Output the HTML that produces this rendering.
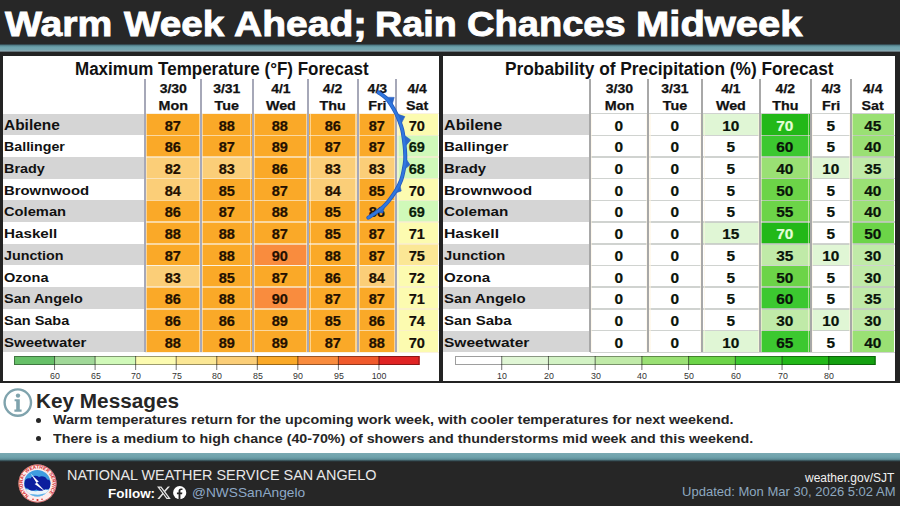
<!DOCTYPE html>
<html><head><meta charset="utf-8"><title>Warm Week Ahead; Rain Chances Midweek</title>
<style>
*{margin:0;padding:0;box-sizing:border-box}
html,body{width:900px;height:506px;overflow:hidden;background:#fff}
body{position:relative;font-family:"Liberation Sans",Arial,sans-serif}
.a{position:absolute}
.hdr{left:0;top:0;width:900px;height:45px;background:#272727}
.title{top:3.7px;color:#fff;font-weight:700;font-size:35.5px;white-space:nowrap;transform-origin:0 0;-webkit-text-stroke:0.9px #fff}
.teal{background:#6fa2ac}
.frame{left:0;top:52px;width:900px;height:331px;background:#232323}
.panel{background:#fff}
.ph{font-weight:700;font-size:17.5px;color:#111;white-space:nowrap;transform-origin:0 0}
.cell{text-align:center;font-weight:700;font-size:14px;line-height:16px;padding-top:4px;color:#231000}
.cell span{display:inline-block;position:relative;left:-0.4px;-webkit-text-stroke:.2px currentColor}
.nm{font-weight:700;font-size:14px;color:#111;white-space:nowrap;transform-origin:0 0}
.dh{font-weight:700;font-size:13px;color:#111;text-align:center;white-space:nowrap;-webkit-text-stroke:.25px #111}
.vl{background:#a8a8a8;width:2px}
.hl{background:rgba(225,225,225,.75);height:1.6px}
.tick{background:#444;width:1px;height:5px}
.tl{font-size:9.8px;color:#333;white-space:nowrap;text-align:center;width:30px;transform:scaleX(.9)}
.km{font-family:"Liberation Sans",Arial,sans-serif;color:#262626;white-space:nowrap;transform-origin:0 0}
.ft{white-space:nowrap;transform-origin:0 0}
</style></head><body>

<div class="a hdr"></div>
<div class="a" id="title" style="left:0;top:0;width:900px;height:45px">
<span class="a title tw" style="left:5.20px;transform:scaleX(1.1021)">Warm</span>
<span class="a title tw" style="left:124.24px;transform:scaleX(1.0892)">Week</span>
<span class="a title tw" style="left:234.31px;transform:scaleX(1.0991)">Ahead</span>
<span class="a title tw" style="left:352.96px;transform:scaleX(1.1857)">;</span>
<span class="a title tw" style="left:375.46px;transform:scaleX(1.0616)">Rain</span>
<span class="a title tw" style="left:467.29px;transform:scaleX(1.0726)">Chances</span>
<span class="a title tw" style="left:636.10px;transform:scaleX(1.1253)">Midweek</span>
</div>
<div class="a" style="left:0;top:44.3px;width:900px;height:8px;background:linear-gradient(#253036 0%,#5d8f9a 22%,#6fa3ad 45%,#74a4ae 70%,#8ea8b1 88%,#3a4044 100%)"></div>
<div class="a frame"></div>
<div class="a panel" style="left:3px;top:56px;width:436px;height:324.5px"></div>
<div class="a panel" style="left:443px;top:56px;width:452px;height:324.5px"></div>
<div class="a ph" id="ph1" style="left:74.5px;top:58.6px;transform:scaleX(0.971)">Maximum Temperature (°F) Forecast</div>
<div class="a ph" id="ph2" style="left:504.5px;top:58.6px;transform:scaleX(0.988)">Probability of Precipitation (%) Forecast</div>
<div class="a" style="left:3px;top:113.6px;width:141.5px;height:21.7px;background:#d5d5d5"></div>
<div class="a nm" style="left:3.6px;top:117.11px;font-size:14.00px;transform:scaleX(1.104)">Abilene</div>
<div class="a cell" style="left:144.5px;top:113.6px;width:56.5px;height:21.7px;background:#faa928;color:#231000"><span style="transform:scaleX(1.04)">87</span></div>
<div class="a cell" style="left:201.0px;top:113.6px;width:51.5px;height:21.7px;background:#faa928;color:#231000"><span style="transform:scaleX(1.04)">88</span></div>
<div class="a cell" style="left:252.5px;top:113.6px;width:55.8px;height:21.7px;background:#faa928;color:#231000"><span style="transform:scaleX(1.04)">88</span></div>
<div class="a cell" style="left:308.3px;top:113.6px;width:49.2px;height:21.7px;background:#faa928;color:#231000"><span style="transform:scaleX(1.04)">86</span></div>
<div class="a cell" style="left:357.5px;top:113.6px;width:38.7px;height:21.7px;background:#faa928;color:#231000"><span style="transform:scaleX(1.04)">87</span></div>
<div class="a cell" style="left:396.2px;top:113.6px;width:42.3px;height:21.7px;background:#fcfbb0;color:#141008"><span style="transform:scaleX(1.04)">70</span></div>
<div class="a" style="left:3px;top:135.3px;width:141.5px;height:21.7px;background:#ffffff"></div>
<div class="a nm" style="left:3.6px;top:139.36px;font-size:13.40px;transform:scaleX(1.062)">Ballinger</div>
<div class="a cell" style="left:144.5px;top:135.3px;width:56.5px;height:21.7px;background:#faa928;color:#231000"><span style="transform:scaleX(1.04)">86</span></div>
<div class="a cell" style="left:201.0px;top:135.3px;width:51.5px;height:21.7px;background:#faa928;color:#231000"><span style="transform:scaleX(1.04)">87</span></div>
<div class="a cell" style="left:252.5px;top:135.3px;width:55.8px;height:21.7px;background:#faa928;color:#231000"><span style="transform:scaleX(1.04)">89</span></div>
<div class="a cell" style="left:308.3px;top:135.3px;width:49.2px;height:21.7px;background:#faa928;color:#231000"><span style="transform:scaleX(1.04)">87</span></div>
<div class="a cell" style="left:357.5px;top:135.3px;width:38.7px;height:21.7px;background:#faa928;color:#231000"><span style="transform:scaleX(1.04)">87</span></div>
<div class="a cell" style="left:396.2px;top:135.3px;width:42.3px;height:21.7px;background:#d0f9b9;color:#0a1e0a"><span style="transform:scaleX(1.04)">69</span></div>
<div class="a" style="left:3px;top:157.0px;width:141.5px;height:21.7px;background:#d5d5d5"></div>
<div class="a nm" style="left:3.6px;top:161.06px;font-size:13.40px;transform:scaleX(1.076)">Brady</div>
<div class="a cell" style="left:144.5px;top:157.0px;width:56.5px;height:21.7px;background:#fbce78;color:#231000"><span style="transform:scaleX(1.04)">82</span></div>
<div class="a cell" style="left:201.0px;top:157.0px;width:51.5px;height:21.7px;background:#fbce78;color:#231000"><span style="transform:scaleX(1.04)">83</span></div>
<div class="a cell" style="left:252.5px;top:157.0px;width:55.8px;height:21.7px;background:#faa928;color:#231000"><span style="transform:scaleX(1.04)">86</span></div>
<div class="a cell" style="left:308.3px;top:157.0px;width:49.2px;height:21.7px;background:#fbce78;color:#231000"><span style="transform:scaleX(1.04)">83</span></div>
<div class="a cell" style="left:357.5px;top:157.0px;width:38.7px;height:21.7px;background:#fbce78;color:#231000"><span style="transform:scaleX(1.04)">83</span></div>
<div class="a cell" style="left:396.2px;top:157.0px;width:42.3px;height:21.7px;background:#d0f9b9;color:#0a1e0a"><span style="transform:scaleX(1.04)">68</span></div>
<div class="a" style="left:3px;top:178.7px;width:141.5px;height:21.7px;background:#ffffff"></div>
<div class="a nm" style="left:3.6px;top:182.76px;font-size:13.40px;transform:scaleX(1.111)">Brownwood</div>
<div class="a cell" style="left:144.5px;top:178.7px;width:56.5px;height:21.7px;background:#fbce78;color:#231000"><span style="transform:scaleX(1.04)">84</span></div>
<div class="a cell" style="left:201.0px;top:178.7px;width:51.5px;height:21.7px;background:#faa928;color:#231000"><span style="transform:scaleX(1.04)">85</span></div>
<div class="a cell" style="left:252.5px;top:178.7px;width:55.8px;height:21.7px;background:#faa928;color:#231000"><span style="transform:scaleX(1.04)">87</span></div>
<div class="a cell" style="left:308.3px;top:178.7px;width:49.2px;height:21.7px;background:#fbce78;color:#231000"><span style="transform:scaleX(1.04)">84</span></div>
<div class="a cell" style="left:357.5px;top:178.7px;width:38.7px;height:21.7px;background:#faa928;color:#231000"><span style="transform:scaleX(1.04)">85</span></div>
<div class="a cell" style="left:396.2px;top:178.7px;width:42.3px;height:21.7px;background:#fcfbb0;color:#141008"><span style="transform:scaleX(1.04)">70</span></div>
<div class="a" style="left:3px;top:200.4px;width:141.5px;height:21.7px;background:#d5d5d5"></div>
<div class="a nm" style="left:3.6px;top:204.46px;font-size:13.40px;transform:scaleX(1.098)">Coleman</div>
<div class="a cell" style="left:144.5px;top:200.4px;width:56.5px;height:21.7px;background:#faa928;color:#231000"><span style="transform:scaleX(1.04)">86</span></div>
<div class="a cell" style="left:201.0px;top:200.4px;width:51.5px;height:21.7px;background:#faa928;color:#231000"><span style="transform:scaleX(1.04)">87</span></div>
<div class="a cell" style="left:252.5px;top:200.4px;width:55.8px;height:21.7px;background:#faa928;color:#231000"><span style="transform:scaleX(1.04)">88</span></div>
<div class="a cell" style="left:308.3px;top:200.4px;width:49.2px;height:21.7px;background:#faa928;color:#231000"><span style="transform:scaleX(1.04)">85</span></div>
<div class="a cell" style="left:357.5px;top:200.4px;width:38.7px;height:21.7px;background:#faa928;color:#231000"><span style="transform:scaleX(1.04)">86</span></div>
<div class="a cell" style="left:396.2px;top:200.4px;width:42.3px;height:21.7px;background:#d0f9b9;color:#0a1e0a"><span style="transform:scaleX(1.04)">69</span></div>
<div class="a" style="left:3px;top:222.1px;width:141.5px;height:21.7px;background:#ffffff"></div>
<div class="a nm" style="left:3.6px;top:226.16px;font-size:13.40px;transform:scaleX(1.136)">Haskell</div>
<div class="a cell" style="left:144.5px;top:222.1px;width:56.5px;height:21.7px;background:#faa928;color:#231000"><span style="transform:scaleX(1.04)">88</span></div>
<div class="a cell" style="left:201.0px;top:222.1px;width:51.5px;height:21.7px;background:#faa928;color:#231000"><span style="transform:scaleX(1.04)">88</span></div>
<div class="a cell" style="left:252.5px;top:222.1px;width:55.8px;height:21.7px;background:#faa928;color:#231000"><span style="transform:scaleX(1.04)">87</span></div>
<div class="a cell" style="left:308.3px;top:222.1px;width:49.2px;height:21.7px;background:#faa928;color:#231000"><span style="transform:scaleX(1.04)">85</span></div>
<div class="a cell" style="left:357.5px;top:222.1px;width:38.7px;height:21.7px;background:#faa928;color:#231000"><span style="transform:scaleX(1.04)">87</span></div>
<div class="a cell" style="left:396.2px;top:222.1px;width:42.3px;height:21.7px;background:#fcfbb0;color:#141008"><span style="transform:scaleX(1.04)">71</span></div>
<div class="a" style="left:3px;top:243.8px;width:141.5px;height:21.7px;background:#d5d5d5"></div>
<div class="a nm" style="left:3.6px;top:247.86px;font-size:13.40px;transform:scaleX(1.067)">Junction</div>
<div class="a cell" style="left:144.5px;top:243.8px;width:56.5px;height:21.7px;background:#faa928;color:#231000"><span style="transform:scaleX(1.04)">87</span></div>
<div class="a cell" style="left:201.0px;top:243.8px;width:51.5px;height:21.7px;background:#faa928;color:#231000"><span style="transform:scaleX(1.04)">88</span></div>
<div class="a cell" style="left:252.5px;top:243.8px;width:55.8px;height:21.7px;background:#f98c3e;color:#231000"><span style="transform:scaleX(1.04)">90</span></div>
<div class="a cell" style="left:308.3px;top:243.8px;width:49.2px;height:21.7px;background:#faa928;color:#231000"><span style="transform:scaleX(1.04)">88</span></div>
<div class="a cell" style="left:357.5px;top:243.8px;width:38.7px;height:21.7px;background:#faa928;color:#231000"><span style="transform:scaleX(1.04)">87</span></div>
<div class="a cell" style="left:396.2px;top:243.8px;width:42.3px;height:21.7px;background:#fbe795;color:#141008"><span style="transform:scaleX(1.04)">75</span></div>
<div class="a" style="left:3px;top:265.5px;width:141.5px;height:21.7px;background:#ffffff"></div>
<div class="a nm" style="left:3.6px;top:269.56px;font-size:13.40px;transform:scaleX(1.088)">Ozona</div>
<div class="a cell" style="left:144.5px;top:265.5px;width:56.5px;height:21.7px;background:#fbce78;color:#231000"><span style="transform:scaleX(1.04)">83</span></div>
<div class="a cell" style="left:201.0px;top:265.5px;width:51.5px;height:21.7px;background:#faa928;color:#231000"><span style="transform:scaleX(1.04)">85</span></div>
<div class="a cell" style="left:252.5px;top:265.5px;width:55.8px;height:21.7px;background:#faa928;color:#231000"><span style="transform:scaleX(1.04)">87</span></div>
<div class="a cell" style="left:308.3px;top:265.5px;width:49.2px;height:21.7px;background:#faa928;color:#231000"><span style="transform:scaleX(1.04)">86</span></div>
<div class="a cell" style="left:357.5px;top:265.5px;width:38.7px;height:21.7px;background:#fbce78;color:#231000"><span style="transform:scaleX(1.04)">84</span></div>
<div class="a cell" style="left:396.2px;top:265.5px;width:42.3px;height:21.7px;background:#fcfbb0;color:#141008"><span style="transform:scaleX(1.04)">72</span></div>
<div class="a" style="left:3px;top:287.2px;width:141.5px;height:21.7px;background:#d5d5d5"></div>
<div class="a nm" style="left:3.6px;top:291.26px;font-size:13.40px;transform:scaleX(1.078)">San Angelo</div>
<div class="a cell" style="left:144.5px;top:287.2px;width:56.5px;height:21.7px;background:#faa928;color:#231000"><span style="transform:scaleX(1.04)">86</span></div>
<div class="a cell" style="left:201.0px;top:287.2px;width:51.5px;height:21.7px;background:#faa928;color:#231000"><span style="transform:scaleX(1.04)">88</span></div>
<div class="a cell" style="left:252.5px;top:287.2px;width:55.8px;height:21.7px;background:#f98c3e;color:#231000"><span style="transform:scaleX(1.04)">90</span></div>
<div class="a cell" style="left:308.3px;top:287.2px;width:49.2px;height:21.7px;background:#faa928;color:#231000"><span style="transform:scaleX(1.04)">87</span></div>
<div class="a cell" style="left:357.5px;top:287.2px;width:38.7px;height:21.7px;background:#faa928;color:#231000"><span style="transform:scaleX(1.04)">87</span></div>
<div class="a cell" style="left:396.2px;top:287.2px;width:42.3px;height:21.7px;background:#fcfbb0;color:#141008"><span style="transform:scaleX(1.04)">71</span></div>
<div class="a" style="left:3px;top:308.9px;width:141.5px;height:21.7px;background:#ffffff"></div>
<div class="a nm" style="left:3.6px;top:312.96px;font-size:13.40px;transform:scaleX(1.083)">San Saba</div>
<div class="a cell" style="left:144.5px;top:308.9px;width:56.5px;height:21.7px;background:#faa928;color:#231000"><span style="transform:scaleX(1.04)">86</span></div>
<div class="a cell" style="left:201.0px;top:308.9px;width:51.5px;height:21.7px;background:#faa928;color:#231000"><span style="transform:scaleX(1.04)">86</span></div>
<div class="a cell" style="left:252.5px;top:308.9px;width:55.8px;height:21.7px;background:#faa928;color:#231000"><span style="transform:scaleX(1.04)">89</span></div>
<div class="a cell" style="left:308.3px;top:308.9px;width:49.2px;height:21.7px;background:#faa928;color:#231000"><span style="transform:scaleX(1.04)">85</span></div>
<div class="a cell" style="left:357.5px;top:308.9px;width:38.7px;height:21.7px;background:#faa928;color:#231000"><span style="transform:scaleX(1.04)">86</span></div>
<div class="a cell" style="left:396.2px;top:308.9px;width:42.3px;height:21.7px;background:#fcfbb0;color:#141008"><span style="transform:scaleX(1.04)">74</span></div>
<div class="a" style="left:3px;top:330.6px;width:141.5px;height:21.7px;background:#d5d5d5"></div>
<div class="a nm" style="left:3.6px;top:334.66px;font-size:13.40px;transform:scaleX(1.119)">Sweetwater</div>
<div class="a cell" style="left:144.5px;top:330.6px;width:56.5px;height:21.7px;background:#faa928;color:#231000"><span style="transform:scaleX(1.04)">88</span></div>
<div class="a cell" style="left:201.0px;top:330.6px;width:51.5px;height:21.7px;background:#faa928;color:#231000"><span style="transform:scaleX(1.04)">89</span></div>
<div class="a cell" style="left:252.5px;top:330.6px;width:55.8px;height:21.7px;background:#faa928;color:#231000"><span style="transform:scaleX(1.04)">89</span></div>
<div class="a cell" style="left:308.3px;top:330.6px;width:49.2px;height:21.7px;background:#faa928;color:#231000"><span style="transform:scaleX(1.04)">87</span></div>
<div class="a cell" style="left:357.5px;top:330.6px;width:38.7px;height:21.7px;background:#faa928;color:#231000"><span style="transform:scaleX(1.04)">88</span></div>
<div class="a cell" style="left:396.2px;top:330.6px;width:42.3px;height:21.7px;background:#fcfbb0;color:#141008"><span style="transform:scaleX(1.04)">70</span></div>
<div class="a hl" style="left:144.5px;top:112.8px;width:294.0px;background:rgba(250,236,212,.7)"></div>
<div class="a hl" style="left:144.5px;top:134.5px;width:294.0px;background:rgba(250,236,212,.7)"></div>
<div class="a hl" style="left:144.5px;top:156.2px;width:294.0px;background:rgba(250,236,212,.7)"></div>
<div class="a hl" style="left:144.5px;top:177.9px;width:294.0px;background:rgba(250,236,212,.7)"></div>
<div class="a hl" style="left:144.5px;top:199.6px;width:294.0px;background:rgba(250,236,212,.7)"></div>
<div class="a hl" style="left:144.5px;top:221.3px;width:294.0px;background:rgba(250,236,212,.7)"></div>
<div class="a hl" style="left:144.5px;top:243.0px;width:294.0px;background:rgba(250,236,212,.7)"></div>
<div class="a hl" style="left:144.5px;top:264.7px;width:294.0px;background:rgba(250,236,212,.7)"></div>
<div class="a hl" style="left:144.5px;top:286.4px;width:294.0px;background:rgba(250,236,212,.7)"></div>
<div class="a hl" style="left:144.5px;top:308.1px;width:294.0px;background:rgba(250,236,212,.7)"></div>
<div class="a hl" style="left:144.5px;top:329.8px;width:294.0px;background:rgba(250,236,212,.7)"></div>
<div class="a hl" style="left:144.5px;top:351.5px;width:294.0px;background:rgba(250,236,212,.7)"></div>
<div class="a" style="left:142.1px;top:113.6px;width:4.8px;height:238.7px;background:linear-gradient(to right,transparent 0 30%,transparent 30% 70%,rgba(255,245,225,.55) 70%)"></div>
<div class="a vl" style="left:143.5px;top:79px;height:273.3px;background:#a6a8b8"></div>
<div class="a" style="left:198.6px;top:113.6px;width:4.8px;height:238.7px;background:linear-gradient(to right,rgba(255,245,225,.55) 0 30%,transparent 30% 70%,rgba(255,245,225,.55) 70%)"></div>
<div class="a vl" style="left:200.0px;top:79px;height:273.3px;background:#a6a8b8"></div>
<div class="a" style="left:250.1px;top:113.6px;width:4.8px;height:238.7px;background:linear-gradient(to right,rgba(255,245,225,.55) 0 30%,transparent 30% 70%,rgba(255,245,225,.55) 70%)"></div>
<div class="a vl" style="left:251.5px;top:79px;height:273.3px;background:#a6a8b8"></div>
<div class="a" style="left:305.9px;top:113.6px;width:4.8px;height:238.7px;background:linear-gradient(to right,rgba(255,245,225,.55) 0 30%,transparent 30% 70%,rgba(255,245,225,.55) 70%)"></div>
<div class="a vl" style="left:307.3px;top:79px;height:273.3px;background:#a6a8b8"></div>
<div class="a" style="left:355.1px;top:113.6px;width:4.8px;height:238.7px;background:linear-gradient(to right,rgba(255,245,225,.55) 0 30%,transparent 30% 70%,rgba(255,245,225,.55) 70%)"></div>
<div class="a vl" style="left:356.5px;top:79px;height:273.3px;background:#a6a8b8"></div>
<div class="a" style="left:393.8px;top:113.6px;width:4.8px;height:238.7px;background:linear-gradient(to right,rgba(255,245,225,.55) 0 30%,transparent 30% 70%,rgba(255,245,225,.55) 70%)"></div>
<div class="a vl" style="left:395.2px;top:79px;height:273.3px;background:#a6a8b8"></div>
<div class="a dh" style="left:144.5px;top:80.83px;width:56.5px;transform:scaleX(1.075)">3/30</div>
<div class="a dh" style="left:144.5px;top:98.23px;width:56.5px;transform:scaleX(1.1)">Mon</div>
<div class="a dh" style="left:201.0px;top:80.83px;width:51.5px;transform:scaleX(1.075)">3/31</div>
<div class="a dh" style="left:201.0px;top:98.23px;width:51.5px;transform:scaleX(1.1)">Tue</div>
<div class="a dh" style="left:252.5px;top:80.83px;width:55.8px;transform:scaleX(1.075)">4/1</div>
<div class="a dh" style="left:252.5px;top:98.23px;width:55.8px;transform:scaleX(1.1)">Wed</div>
<div class="a dh" style="left:308.3px;top:80.83px;width:49.2px;transform:scaleX(1.075)">4/2</div>
<div class="a dh" style="left:308.3px;top:98.23px;width:49.2px;transform:scaleX(1.1)">Thu</div>
<div class="a dh" style="left:357.5px;top:80.83px;width:38.7px;transform:scaleX(1.075)">4/3</div>
<div class="a dh" style="left:357.5px;top:98.23px;width:38.7px;transform:scaleX(1.1)">Fri</div>
<div class="a dh" style="left:396.2px;top:80.83px;width:42.3px;transform:scaleX(1.075)">4/4</div>
<div class="a dh" style="left:396.2px;top:98.23px;width:42.3px;transform:scaleX(1.1)">Sat</div>
<div class="a" style="left:443px;top:113.6px;width:146.5px;height:21.7px;background:#d5d5d5"></div>
<div class="a nm" style="left:443.6px;top:117.11px;font-size:14.00px;transform:scaleX(1.150)">Abilene</div>
<div class="a cell" style="left:589.5px;top:113.6px;width:58.9px;height:21.7px;background:#ffffff;color:#0a140a"><span style="transform:scaleX(1.1)">0</span></div>
<div class="a cell" style="left:648.4px;top:113.6px;width:53.9px;height:21.7px;background:#ffffff;color:#0a140a"><span style="transform:scaleX(1.1)">0</span></div>
<div class="a cell" style="left:702.3px;top:113.6px;width:57.8px;height:21.7px;background:#e0f6d5;color:#0a140a"><span style="transform:scaleX(1.1)">10</span></div>
<div class="a cell" style="left:760.1px;top:113.6px;width:50.7px;height:21.7px;background:#22b818;color:#e4ffd8"><span style="transform:scaleX(1.1)">70</span></div>
<div class="a cell" style="left:810.8px;top:113.6px;width:40.3px;height:21.7px;background:#ffffff;color:#0a140a"><span style="transform:scaleX(1.1)">5</span></div>
<div class="a cell" style="left:851.1px;top:113.6px;width:43.4px;height:21.7px;background:#9ae074;color:#0a140a"><span style="transform:scaleX(1.1)">45</span></div>
<div class="a" style="left:443px;top:135.3px;width:146.5px;height:21.7px;background:#ffffff"></div>
<div class="a nm" style="left:443.6px;top:139.36px;font-size:13.40px;transform:scaleX(1.121)">Ballinger</div>
<div class="a cell" style="left:589.5px;top:135.3px;width:58.9px;height:21.7px;background:#ffffff;color:#0a140a"><span style="transform:scaleX(1.1)">0</span></div>
<div class="a cell" style="left:648.4px;top:135.3px;width:53.9px;height:21.7px;background:#ffffff;color:#0a140a"><span style="transform:scaleX(1.1)">0</span></div>
<div class="a cell" style="left:702.3px;top:135.3px;width:57.8px;height:21.7px;background:#ffffff;color:#0a140a"><span style="transform:scaleX(1.1)">5</span></div>
<div class="a cell" style="left:760.1px;top:135.3px;width:50.7px;height:21.7px;background:#3cc830;color:#0a140a"><span style="transform:scaleX(1.1)">60</span></div>
<div class="a cell" style="left:810.8px;top:135.3px;width:40.3px;height:21.7px;background:#ffffff;color:#0a140a"><span style="transform:scaleX(1.1)">5</span></div>
<div class="a cell" style="left:851.1px;top:135.3px;width:43.4px;height:21.7px;background:#9ae074;color:#0a140a"><span style="transform:scaleX(1.1)">40</span></div>
<div class="a" style="left:443px;top:157.0px;width:146.5px;height:21.7px;background:#d5d5d5"></div>
<div class="a nm" style="left:443.6px;top:161.06px;font-size:13.40px;transform:scaleX(1.105)">Brady</div>
<div class="a cell" style="left:589.5px;top:157.0px;width:58.9px;height:21.7px;background:#ffffff;color:#0a140a"><span style="transform:scaleX(1.1)">0</span></div>
<div class="a cell" style="left:648.4px;top:157.0px;width:53.9px;height:21.7px;background:#ffffff;color:#0a140a"><span style="transform:scaleX(1.1)">0</span></div>
<div class="a cell" style="left:702.3px;top:157.0px;width:57.8px;height:21.7px;background:#ffffff;color:#0a140a"><span style="transform:scaleX(1.1)">5</span></div>
<div class="a cell" style="left:760.1px;top:157.0px;width:50.7px;height:21.7px;background:#9ae074;color:#0a140a"><span style="transform:scaleX(1.1)">40</span></div>
<div class="a cell" style="left:810.8px;top:157.0px;width:40.3px;height:21.7px;background:#e0f6d5;color:#0a140a"><span style="transform:scaleX(1.1)">10</span></div>
<div class="a cell" style="left:851.1px;top:157.0px;width:43.4px;height:21.7px;background:#c0eaa8;color:#0a140a"><span style="transform:scaleX(1.1)">35</span></div>
<div class="a" style="left:443px;top:178.7px;width:146.5px;height:21.7px;background:#ffffff"></div>
<div class="a nm" style="left:443.6px;top:182.76px;font-size:13.40px;transform:scaleX(1.149)">Brownwood</div>
<div class="a cell" style="left:589.5px;top:178.7px;width:58.9px;height:21.7px;background:#ffffff;color:#0a140a"><span style="transform:scaleX(1.1)">0</span></div>
<div class="a cell" style="left:648.4px;top:178.7px;width:53.9px;height:21.7px;background:#ffffff;color:#0a140a"><span style="transform:scaleX(1.1)">0</span></div>
<div class="a cell" style="left:702.3px;top:178.7px;width:57.8px;height:21.7px;background:#ffffff;color:#0a140a"><span style="transform:scaleX(1.1)">5</span></div>
<div class="a cell" style="left:760.1px;top:178.7px;width:50.7px;height:21.7px;background:#6cd448;color:#0a140a"><span style="transform:scaleX(1.1)">50</span></div>
<div class="a cell" style="left:810.8px;top:178.7px;width:40.3px;height:21.7px;background:#ffffff;color:#0a140a"><span style="transform:scaleX(1.1)">5</span></div>
<div class="a cell" style="left:851.1px;top:178.7px;width:43.4px;height:21.7px;background:#9ae074;color:#0a140a"><span style="transform:scaleX(1.1)">40</span></div>
<div class="a" style="left:443px;top:200.4px;width:146.5px;height:21.7px;background:#d5d5d5"></div>
<div class="a nm" style="left:443.6px;top:204.46px;font-size:13.40px;transform:scaleX(1.138)">Coleman</div>
<div class="a cell" style="left:589.5px;top:200.4px;width:58.9px;height:21.7px;background:#ffffff;color:#0a140a"><span style="transform:scaleX(1.1)">0</span></div>
<div class="a cell" style="left:648.4px;top:200.4px;width:53.9px;height:21.7px;background:#ffffff;color:#0a140a"><span style="transform:scaleX(1.1)">0</span></div>
<div class="a cell" style="left:702.3px;top:200.4px;width:57.8px;height:21.7px;background:#ffffff;color:#0a140a"><span style="transform:scaleX(1.1)">5</span></div>
<div class="a cell" style="left:760.1px;top:200.4px;width:50.7px;height:21.7px;background:#6cd448;color:#0a140a"><span style="transform:scaleX(1.1)">55</span></div>
<div class="a cell" style="left:810.8px;top:200.4px;width:40.3px;height:21.7px;background:#ffffff;color:#0a140a"><span style="transform:scaleX(1.1)">5</span></div>
<div class="a cell" style="left:851.1px;top:200.4px;width:43.4px;height:21.7px;background:#9ae074;color:#0a140a"><span style="transform:scaleX(1.1)">40</span></div>
<div class="a" style="left:443px;top:222.1px;width:146.5px;height:21.7px;background:#ffffff"></div>
<div class="a nm" style="left:443.6px;top:226.16px;font-size:13.40px;transform:scaleX(1.175)">Haskell</div>
<div class="a cell" style="left:589.5px;top:222.1px;width:58.9px;height:21.7px;background:#ffffff;color:#0a140a"><span style="transform:scaleX(1.1)">0</span></div>
<div class="a cell" style="left:648.4px;top:222.1px;width:53.9px;height:21.7px;background:#ffffff;color:#0a140a"><span style="transform:scaleX(1.1)">0</span></div>
<div class="a cell" style="left:702.3px;top:222.1px;width:57.8px;height:21.7px;background:#e0f6d5;color:#0a140a"><span style="transform:scaleX(1.1)">15</span></div>
<div class="a cell" style="left:760.1px;top:222.1px;width:50.7px;height:21.7px;background:#22b818;color:#e4ffd8"><span style="transform:scaleX(1.1)">70</span></div>
<div class="a cell" style="left:810.8px;top:222.1px;width:40.3px;height:21.7px;background:#ffffff;color:#0a140a"><span style="transform:scaleX(1.1)">5</span></div>
<div class="a cell" style="left:851.1px;top:222.1px;width:43.4px;height:21.7px;background:#6cd448;color:#0a140a"><span style="transform:scaleX(1.1)">50</span></div>
<div class="a" style="left:443px;top:243.8px;width:146.5px;height:21.7px;background:#d5d5d5"></div>
<div class="a nm" style="left:443.6px;top:247.86px;font-size:13.40px;transform:scaleX(1.098)">Junction</div>
<div class="a cell" style="left:589.5px;top:243.8px;width:58.9px;height:21.7px;background:#ffffff;color:#0a140a"><span style="transform:scaleX(1.1)">0</span></div>
<div class="a cell" style="left:648.4px;top:243.8px;width:53.9px;height:21.7px;background:#ffffff;color:#0a140a"><span style="transform:scaleX(1.1)">0</span></div>
<div class="a cell" style="left:702.3px;top:243.8px;width:57.8px;height:21.7px;background:#ffffff;color:#0a140a"><span style="transform:scaleX(1.1)">5</span></div>
<div class="a cell" style="left:760.1px;top:243.8px;width:50.7px;height:21.7px;background:#c0eaa8;color:#0a140a"><span style="transform:scaleX(1.1)">35</span></div>
<div class="a cell" style="left:810.8px;top:243.8px;width:40.3px;height:21.7px;background:#e0f6d5;color:#0a140a"><span style="transform:scaleX(1.1)">10</span></div>
<div class="a cell" style="left:851.1px;top:243.8px;width:43.4px;height:21.7px;background:#c0eaa8;color:#0a140a"><span style="transform:scaleX(1.1)">30</span></div>
<div class="a" style="left:443px;top:265.5px;width:146.5px;height:21.7px;background:#ffffff"></div>
<div class="a nm" style="left:443.6px;top:269.56px;font-size:13.40px;transform:scaleX(1.126)">Ozona</div>
<div class="a cell" style="left:589.5px;top:265.5px;width:58.9px;height:21.7px;background:#ffffff;color:#0a140a"><span style="transform:scaleX(1.1)">0</span></div>
<div class="a cell" style="left:648.4px;top:265.5px;width:53.9px;height:21.7px;background:#ffffff;color:#0a140a"><span style="transform:scaleX(1.1)">0</span></div>
<div class="a cell" style="left:702.3px;top:265.5px;width:57.8px;height:21.7px;background:#ffffff;color:#0a140a"><span style="transform:scaleX(1.1)">5</span></div>
<div class="a cell" style="left:760.1px;top:265.5px;width:50.7px;height:21.7px;background:#6cd448;color:#0a140a"><span style="transform:scaleX(1.1)">50</span></div>
<div class="a cell" style="left:810.8px;top:265.5px;width:40.3px;height:21.7px;background:#ffffff;color:#0a140a"><span style="transform:scaleX(1.1)">5</span></div>
<div class="a cell" style="left:851.1px;top:265.5px;width:43.4px;height:21.7px;background:#c0eaa8;color:#0a140a"><span style="transform:scaleX(1.1)">30</span></div>
<div class="a" style="left:443px;top:287.2px;width:146.5px;height:21.7px;background:#d5d5d5"></div>
<div class="a nm" style="left:443.6px;top:291.26px;font-size:13.40px;transform:scaleX(1.116)">San Angelo</div>
<div class="a cell" style="left:589.5px;top:287.2px;width:58.9px;height:21.7px;background:#ffffff;color:#0a140a"><span style="transform:scaleX(1.1)">0</span></div>
<div class="a cell" style="left:648.4px;top:287.2px;width:53.9px;height:21.7px;background:#ffffff;color:#0a140a"><span style="transform:scaleX(1.1)">0</span></div>
<div class="a cell" style="left:702.3px;top:287.2px;width:57.8px;height:21.7px;background:#ffffff;color:#0a140a"><span style="transform:scaleX(1.1)">5</span></div>
<div class="a cell" style="left:760.1px;top:287.2px;width:50.7px;height:21.7px;background:#3cc830;color:#0a140a"><span style="transform:scaleX(1.1)">60</span></div>
<div class="a cell" style="left:810.8px;top:287.2px;width:40.3px;height:21.7px;background:#ffffff;color:#0a140a"><span style="transform:scaleX(1.1)">5</span></div>
<div class="a cell" style="left:851.1px;top:287.2px;width:43.4px;height:21.7px;background:#c0eaa8;color:#0a140a"><span style="transform:scaleX(1.1)">35</span></div>
<div class="a" style="left:443px;top:308.9px;width:146.5px;height:21.7px;background:#ffffff"></div>
<div class="a nm" style="left:443.6px;top:312.96px;font-size:13.40px;transform:scaleX(1.121)">San Saba</div>
<div class="a cell" style="left:589.5px;top:308.9px;width:58.9px;height:21.7px;background:#ffffff;color:#0a140a"><span style="transform:scaleX(1.1)">0</span></div>
<div class="a cell" style="left:648.4px;top:308.9px;width:53.9px;height:21.7px;background:#ffffff;color:#0a140a"><span style="transform:scaleX(1.1)">0</span></div>
<div class="a cell" style="left:702.3px;top:308.9px;width:57.8px;height:21.7px;background:#ffffff;color:#0a140a"><span style="transform:scaleX(1.1)">5</span></div>
<div class="a cell" style="left:760.1px;top:308.9px;width:50.7px;height:21.7px;background:#c0eaa8;color:#0a140a"><span style="transform:scaleX(1.1)">30</span></div>
<div class="a cell" style="left:810.8px;top:308.9px;width:40.3px;height:21.7px;background:#e0f6d5;color:#0a140a"><span style="transform:scaleX(1.1)">10</span></div>
<div class="a cell" style="left:851.1px;top:308.9px;width:43.4px;height:21.7px;background:#c0eaa8;color:#0a140a"><span style="transform:scaleX(1.1)">30</span></div>
<div class="a" style="left:443px;top:330.6px;width:146.5px;height:21.7px;background:#d5d5d5"></div>
<div class="a nm" style="left:443.6px;top:334.66px;font-size:13.40px;transform:scaleX(1.158)">Sweetwater</div>
<div class="a cell" style="left:589.5px;top:330.6px;width:58.9px;height:21.7px;background:#ffffff;color:#0a140a"><span style="transform:scaleX(1.1)">0</span></div>
<div class="a cell" style="left:648.4px;top:330.6px;width:53.9px;height:21.7px;background:#ffffff;color:#0a140a"><span style="transform:scaleX(1.1)">0</span></div>
<div class="a cell" style="left:702.3px;top:330.6px;width:57.8px;height:21.7px;background:#e0f6d5;color:#0a140a"><span style="transform:scaleX(1.1)">10</span></div>
<div class="a cell" style="left:760.1px;top:330.6px;width:50.7px;height:21.7px;background:#3cc830;color:#0a140a"><span style="transform:scaleX(1.1)">65</span></div>
<div class="a cell" style="left:810.8px;top:330.6px;width:40.3px;height:21.7px;background:#ffffff;color:#0a140a"><span style="transform:scaleX(1.1)">5</span></div>
<div class="a cell" style="left:851.1px;top:330.6px;width:43.4px;height:21.7px;background:#9ae074;color:#0a140a"><span style="transform:scaleX(1.1)">40</span></div>
<div class="a hl" style="left:589.5px;top:112.8px;width:305.0px;background:rgba(196,200,196,.8)"></div>
<div class="a hl" style="left:589.5px;top:134.5px;width:305.0px;background:rgba(196,200,196,.8)"></div>
<div class="a hl" style="left:589.5px;top:156.2px;width:305.0px;background:rgba(196,200,196,.8)"></div>
<div class="a hl" style="left:589.5px;top:177.9px;width:305.0px;background:rgba(196,200,196,.8)"></div>
<div class="a hl" style="left:589.5px;top:199.6px;width:305.0px;background:rgba(196,200,196,.8)"></div>
<div class="a hl" style="left:589.5px;top:221.3px;width:305.0px;background:rgba(196,200,196,.8)"></div>
<div class="a hl" style="left:589.5px;top:243.0px;width:305.0px;background:rgba(196,200,196,.8)"></div>
<div class="a hl" style="left:589.5px;top:264.7px;width:305.0px;background:rgba(196,200,196,.8)"></div>
<div class="a hl" style="left:589.5px;top:286.4px;width:305.0px;background:rgba(196,200,196,.8)"></div>
<div class="a hl" style="left:589.5px;top:308.1px;width:305.0px;background:rgba(196,200,196,.8)"></div>
<div class="a hl" style="left:589.5px;top:329.8px;width:305.0px;background:rgba(196,200,196,.8)"></div>
<div class="a hl" style="left:589.5px;top:351.5px;width:305.0px;background:rgba(196,200,196,.8)"></div>
<div class="a" style="left:587.1px;top:113.6px;width:4.8px;height:238.7px;background:linear-gradient(to right,transparent 0 30%,transparent 30% 70%,rgba(255,245,225,.55) 70%)"></div>
<div class="a vl" style="left:588.5px;top:79px;height:273.3px;background:#a8a8a8"></div>
<div class="a" style="left:646.0px;top:113.6px;width:4.8px;height:238.7px;background:linear-gradient(to right,rgba(255,245,225,.55) 0 30%,transparent 30% 70%,rgba(255,245,225,.55) 70%)"></div>
<div class="a vl" style="left:647.4px;top:79px;height:273.3px;background:#a8a8a8"></div>
<div class="a" style="left:699.9px;top:113.6px;width:4.8px;height:238.7px;background:linear-gradient(to right,rgba(255,245,225,.55) 0 30%,transparent 30% 70%,rgba(255,245,225,.55) 70%)"></div>
<div class="a vl" style="left:701.3px;top:79px;height:273.3px;background:#a8a8a8"></div>
<div class="a" style="left:757.7px;top:113.6px;width:4.8px;height:238.7px;background:linear-gradient(to right,rgba(255,245,225,.55) 0 30%,transparent 30% 70%,rgba(255,245,225,.55) 70%)"></div>
<div class="a vl" style="left:759.1px;top:79px;height:273.3px;background:#a8a8a8"></div>
<div class="a" style="left:808.4px;top:113.6px;width:4.8px;height:238.7px;background:linear-gradient(to right,rgba(255,245,225,.55) 0 30%,transparent 30% 70%,rgba(255,245,225,.55) 70%)"></div>
<div class="a vl" style="left:809.8px;top:79px;height:273.3px;background:#a8a8a8"></div>
<div class="a" style="left:848.7px;top:113.6px;width:4.8px;height:238.7px;background:linear-gradient(to right,rgba(255,245,225,.55) 0 30%,transparent 30% 70%,rgba(255,245,225,.55) 70%)"></div>
<div class="a vl" style="left:850.1px;top:79px;height:273.3px;background:#a8a8a8"></div>
<div class="a dh" style="left:589.5px;top:80.83px;width:58.9px;transform:scaleX(1.075)">3/30</div>
<div class="a dh" style="left:589.5px;top:98.23px;width:58.9px;transform:scaleX(1.1)">Mon</div>
<div class="a dh" style="left:648.4px;top:80.83px;width:53.9px;transform:scaleX(1.075)">3/31</div>
<div class="a dh" style="left:648.4px;top:98.23px;width:53.9px;transform:scaleX(1.1)">Tue</div>
<div class="a dh" style="left:702.3px;top:80.83px;width:57.8px;transform:scaleX(1.075)">4/1</div>
<div class="a dh" style="left:702.3px;top:98.23px;width:57.8px;transform:scaleX(1.1)">Wed</div>
<div class="a dh" style="left:760.1px;top:80.83px;width:50.7px;transform:scaleX(1.075)">4/2</div>
<div class="a dh" style="left:760.1px;top:98.23px;width:50.7px;transform:scaleX(1.1)">Thu</div>
<div class="a dh" style="left:810.8px;top:80.83px;width:40.3px;transform:scaleX(1.075)">4/3</div>
<div class="a dh" style="left:810.8px;top:98.23px;width:40.3px;transform:scaleX(1.1)">Fri</div>
<div class="a dh" style="left:851.1px;top:80.83px;width:43.4px;transform:scaleX(1.075)">4/4</div>
<div class="a dh" style="left:851.1px;top:98.23px;width:43.4px;transform:scaleX(1.1)">Sat</div>
<svg class="a" style="left:13px;top:355px" width="407.5" height="17" viewBox="13 355 407.5 17"><rect x="14.00" y="356" width="40.85" height="9" fill="#66c068"/><rect x="54.55" y="356" width="40.85" height="9" fill="#a0d898"/><rect x="95.10" y="356" width="40.85" height="9" fill="#d0f9b9"/><rect x="135.65" y="356" width="40.85" height="9" fill="#fcfbb0"/><rect x="176.20" y="356" width="40.85" height="9" fill="#fbe795"/><rect x="216.75" y="356" width="40.85" height="9" fill="#fbce78"/><rect x="257.30" y="356" width="40.85" height="9" fill="#faa928"/><rect x="297.85" y="356" width="40.85" height="9" fill="#f98c3e"/><rect x="338.40" y="356" width="40.85" height="9" fill="#f05a2c"/><rect x="378.95" y="356" width="40.85" height="9" fill="#e02424"/><rect x="14.5" y="356.5" width="404.50" height="8" fill="none" stroke="rgba(0,0,0,.38)" stroke-width="1"/><line x1="54.55" y1="356" x2="54.55" y2="370" stroke="rgba(0,0,0,.55)" stroke-width="1"/><line x1="95.10" y1="356" x2="95.10" y2="370" stroke="rgba(0,0,0,.55)" stroke-width="1"/><line x1="135.65" y1="356" x2="135.65" y2="370" stroke="rgba(0,0,0,.55)" stroke-width="1"/><line x1="176.20" y1="356" x2="176.20" y2="370" stroke="rgba(0,0,0,.55)" stroke-width="1"/><line x1="216.75" y1="356" x2="216.75" y2="370" stroke="rgba(0,0,0,.55)" stroke-width="1"/><line x1="257.30" y1="356" x2="257.30" y2="370" stroke="rgba(0,0,0,.55)" stroke-width="1"/><line x1="297.85" y1="356" x2="297.85" y2="370" stroke="rgba(0,0,0,.55)" stroke-width="1"/><line x1="338.40" y1="356" x2="338.40" y2="370" stroke="rgba(0,0,0,.55)" stroke-width="1"/><line x1="378.95" y1="356" x2="378.95" y2="370" stroke="rgba(0,0,0,.55)" stroke-width="1"/></svg>
<div class="a tl" style="left:40.0px;top:370.3px">60</div>
<div class="a tl" style="left:80.6px;top:370.3px">65</div>
<div class="a tl" style="left:121.1px;top:370.3px">70</div>
<div class="a tl" style="left:161.7px;top:370.3px">75</div>
<div class="a tl" style="left:202.2px;top:370.3px">80</div>
<div class="a tl" style="left:242.8px;top:370.3px">85</div>
<div class="a tl" style="left:283.3px;top:370.3px">90</div>
<div class="a tl" style="left:323.9px;top:370.3px">95</div>
<div class="a tl" style="left:364.4px;top:370.3px">100</div>
<svg class="a" style="left:454px;top:355px" width="422.5" height="17" viewBox="454 355 422.5 17"><rect x="455.00" y="356" width="47.02" height="9" fill="#ffffff"/><rect x="501.72" y="356" width="47.02" height="9" fill="#e0f6d5"/><rect x="548.44" y="356" width="47.02" height="9" fill="#d2f2c4"/><rect x="595.17" y="356" width="47.02" height="9" fill="#c0eaa8"/><rect x="641.89" y="356" width="47.02" height="9" fill="#9ae074"/><rect x="688.61" y="356" width="47.02" height="9" fill="#6cd448"/><rect x="735.33" y="356" width="47.02" height="9" fill="#3cc830"/><rect x="782.06" y="356" width="47.02" height="9" fill="#22b818"/><rect x="828.78" y="356" width="47.02" height="9" fill="#14a010"/><rect x="455.5" y="356.5" width="419.50" height="8" fill="none" stroke="rgba(0,0,0,.38)" stroke-width="1"/><line x1="501.72" y1="356" x2="501.72" y2="370" stroke="rgba(0,0,0,.55)" stroke-width="1"/><line x1="548.44" y1="356" x2="548.44" y2="370" stroke="rgba(0,0,0,.55)" stroke-width="1"/><line x1="595.17" y1="356" x2="595.17" y2="370" stroke="rgba(0,0,0,.55)" stroke-width="1"/><line x1="641.89" y1="356" x2="641.89" y2="370" stroke="rgba(0,0,0,.55)" stroke-width="1"/><line x1="688.61" y1="356" x2="688.61" y2="370" stroke="rgba(0,0,0,.55)" stroke-width="1"/><line x1="735.33" y1="356" x2="735.33" y2="370" stroke="rgba(0,0,0,.55)" stroke-width="1"/><line x1="782.06" y1="356" x2="782.06" y2="370" stroke="rgba(0,0,0,.55)" stroke-width="1"/><line x1="828.78" y1="356" x2="828.78" y2="370" stroke="rgba(0,0,0,.55)" stroke-width="1"/></svg>
<div class="a tl" style="left:487.2px;top:370.3px">10</div>
<div class="a tl" style="left:533.9px;top:370.3px">20</div>
<div class="a tl" style="left:580.7px;top:370.3px">30</div>
<div class="a tl" style="left:627.4px;top:370.3px">40</div>
<div class="a tl" style="left:674.1px;top:370.3px">50</div>
<div class="a tl" style="left:720.8px;top:370.3px">60</div>
<div class="a tl" style="left:767.6px;top:370.3px">70</div>
<div class="a tl" style="left:814.3px;top:370.3px">80</div>
<svg class="a" style="left:0;top:0" width="900" height="506" viewBox="0 0 900 506">
<path d="M378.4,92.4 C379.63,93.30 383.67,95.73 385.8,97.8 C387.93,99.87 389.47,102.15 391.2,104.8 C392.93,107.45 394.80,110.90 396.2,113.7 C397.60,116.50 398.58,118.88 399.6,121.6 C400.62,124.32 401.58,126.93 402.3,130 C403.02,133.07 403.45,136.67 403.9,140 C404.35,143.33 404.78,146.67 405,150 C405.22,153.33 405.42,156.67 405.2,160 C404.98,163.33 404.37,166.67 403.7,170 C403.03,173.33 402.43,176.67 401.2,180 C399.97,183.33 398.32,186.60 396.3,190 C394.28,193.40 391.23,197.63 389.1,200.4 C386.97,203.17 385.68,204.58 383.5,206.6 C381.32,208.62 378.53,210.65 376,212.5 C373.47,214.35 369.58,216.83 368.3,217.7" fill="none" stroke="#2459bd" stroke-width="4" stroke-linecap="round" stroke-linejoin="round"/>
<polygon points="385.1,97.2 394.2,97.4 391.8,105.8" fill="#2a68cc" stroke="#2459bd" stroke-width=".6" stroke-linejoin="round"/>
<polygon points="396.1,113.6 404.8,116.6 400.7,124.6" fill="#2a68cc" stroke="#2459bd" stroke-width=".6" stroke-linejoin="round"/>
<polygon points="403.2,134.6 410.7,139.9 404.7,146.9" fill="#2a68cc" stroke="#2459bd" stroke-width=".6" stroke-linejoin="round"/>
<polygon points="405.3,157.8 410.0,164.8 403.7,170.1" fill="#2a68cc" stroke="#2459bd" stroke-width=".6" stroke-linejoin="round"/>
<polygon points="399.6,183.9 401.2,191.0 394.1,193.4" fill="#2a68cc" stroke="#2459bd" stroke-width=".6" stroke-linejoin="round"/>
<polygon points="384.1,206.1 383.0,213.0 376.3,212.3" fill="#2a68cc" stroke="#2459bd" stroke-width=".6" stroke-linejoin="round"/>
<path d="M378.4,92.4 C379.63,93.30 383.67,95.73 385.8,97.8 C387.93,99.87 389.47,102.15 391.2,104.8 C392.93,107.45 394.80,110.90 396.2,113.7 C397.60,116.50 398.58,118.88 399.6,121.6 C400.62,124.32 401.58,126.93 402.3,130 C403.02,133.07 403.45,136.67 403.9,140 C404.35,143.33 404.78,146.67 405,150 C405.22,153.33 405.42,156.67 405.2,160 C404.98,163.33 404.37,166.67 403.7,170 C403.03,173.33 402.43,176.67 401.2,180 C399.97,183.33 398.32,186.60 396.3,190 C394.28,193.40 391.23,197.63 389.1,200.4 C386.97,203.17 385.68,204.58 383.5,206.6 C381.32,208.62 378.53,210.65 376,212.5 C373.47,214.35 369.58,216.83 368.3,217.7" fill="none" stroke="#2f78e0" stroke-width="2.4" stroke-linecap="round" stroke-linejoin="round"/>
</svg>
<svg class="a" style="left:3px;top:388px" width="30" height="30" viewBox="0 0 30 30"><circle cx="14.8" cy="14.6" r="13.2" fill="none" stroke="#7fa3ad" stroke-width="2.4"/><circle cx="15" cy="7.6" r="2.2" fill="#7fa3ad"/><path d="M11.6,11.2 H16.8 V21.6 H18.6 V23.8 H11.4 V21.6 H13.2 V13.3 H11.6 Z" fill="#7fa3ad"/></svg>
<div class="a km" id="kmh" style="left:36.2px;top:390.2px;font-size:19.5px;font-weight:700;transform:scaleX(1.064)">Key Messages</div>
<div class="a" style="left:35.5px;top:417.5px;width:5px;height:5px;border-radius:50%;background:#262626"></div>
<div class="a" style="left:35.5px;top:436px;width:5px;height:5px;border-radius:50%;background:#262626"></div>
<div class="a km" id="km1" style="left:53px;top:412px;font-size:13.3px;font-weight:700;transform:scaleX(1.078)">Warm temperatures return for the upcoming work week, with cooler temperatures for next weekend.</div>
<div class="a km" id="km2" style="left:53px;top:430.6px;font-size:13.3px;font-weight:700;transform:scaleX(1.072)">There is a medium to high chance (40-70%) of showers and thunderstorms mid week and this weekend.</div>
<div class="a" style="left:0;top:460px;width:900px;height:46px;background:#262626"></div>
<div class="a" style="left:0;top:453.2px;width:900px;height:8.5px;background:linear-gradient(#7aa9b2 0%,#6fa2ac 45%,#5f8f99 70%,#2a3a40 90%,#262626 100%)"></div>
<svg class="a" style="left:18.2px;top:464.2px" width="39" height="39" viewBox="0 0 39 39">
<defs><path id="ring" d="M10.94,31.72 A14.9,14.9 0 1,1 28.06,31.72"/><clipPath id="inner"><circle cx="19.3" cy="19.2" r="13.2"/></clipPath></defs>
<circle cx="19.5" cy="19.5" r="19" fill="#fcecec"/>
<circle cx="19.5" cy="19.5" r="18.6" fill="none" stroke="#d44a4a" stroke-width=".8"/>
<g clip-path="url(#inner)">
<rect x="0" y="0" width="39" height="39" fill="#3f9de0"/>
<path d="M4,26 C10,23 15,29 21,26.5 C26,24.5 30,27 35,25 L35,39 L4,39 Z" fill="#eaf4fb"/>
<path d="M6,31 C12,28.5 18,32 24,30 C28,29 31,30 34,29.5 L34,39 L6,39 Z" fill="#5fb0e8"/>
<path d="M6.5,20 C6,16 9,13.5 12.5,14.5 C14,11.5 18.5,11 21,13 C23.5,11.5 28,12.5 29,15.5 C32.5,15.5 33.5,19 32.5,21.5 C33,24.5 30,26 27.5,25 C25,27.5 20.5,27 18.5,25.5 C15.5,27.5 11,26.5 10,24.5 C7.5,24.5 6,22.5 6.5,20 Z" fill="#0c1f9e"/>
</g>
<path d="M12.5,9.5 L20.8,17.8 L18.8,18.6 L27.5,27.8 L16.6,19.9 L18.6,19.1 Z" fill="#fff"/>
<text font-family="Liberation Sans,sans-serif" font-weight="700" font-size="4.7" fill="#d42a2a" textLength="71" lengthAdjust="spacing"><textPath href="#ring">NATIONAL WEATHER SERVICE</textPath></text>
<circle cx="15" cy="35.3" r=".8" fill="#d42a2a"/><circle cx="24" cy="35.3" r=".8" fill="#d42a2a"/><circle cx="19.5" cy="36" r="1.1" fill="#d42a2a"/>
</svg>
<div class="a ft" id="f1" style="left:67.2px;top:467px;font-size:14.2px;color:#e8e8e8;transform:scaleX(1.016)">NATIONAL WEATHER SERVICE SAN ANGELO</div>
<div class="a ft" id="f2" style="left:108.2px;top:486.3px;font-size:13px;color:#fff;font-weight:700;transform:scaleX(1.035)">Follow:</div>
<svg class="a" style="left:156.6px;top:485.6px" width="14" height="13.5" viewBox="1.2 2 22 20"><path d="M18.244 2.25h3.308l-7.227 8.26 8.502 11.24H16.17l-5.214-6.817L4.99 21.75H1.68l7.73-8.835L1.254 2.25H8.08l4.713 6.231zm-1.161 17.52h1.833L7.084 4.126H5.117z" fill="#e6e6e6"/></svg>
<svg class="a" style="left:173.3px;top:486.4px" width="13.4" height="13.4" viewBox="0 0 13 13"><circle cx="6.5" cy="6.5" r="6.4" fill="#fff"/><path d="M7.2,13 V8 H8.8 L9.1,6.2 H7.2 V5 C7.2,4.4 7.5,4 8.2,4 H9.2 V2.5 C8.8,2.4 8.3,2.4 7.8,2.4 C6.3,2.4 5.4,3.3 5.4,4.8 V6.2 H3.8 V8 H5.4 V13 Z" fill="#242323"/></svg>
<div class="a ft" id="f3" style="left:192.2px;top:485px;font-size:13px;color:#8ea9c6;transform:scaleX(1.056)">@NWSSanAngelo</div>
<div class="a ft" id="f4" style="left:805px;top:471px;font-size:12px;color:#f2f2f2">weather.gov/SJT</div>
<div class="a ft" id="f5" style="left:681.8px;top:484.5px;font-size:12px;color:#8ea9c0;transform:scaleX(1.085)">Updated: Mon Mar 30, 2026 5:02 AM</div>
</body></html>
